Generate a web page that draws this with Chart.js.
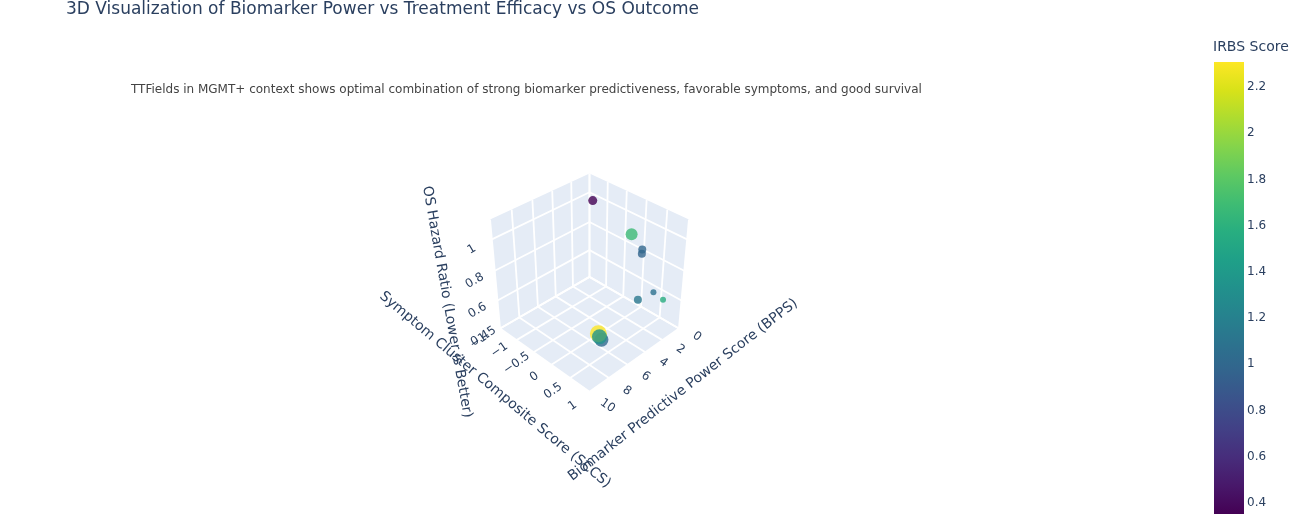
<!DOCTYPE html>
<html>
<head>
<meta charset="utf-8">
<title>BPPS vs SCCS vs OS HR</title>
<script src="https://cdn.jsdelivr.net/npm/chart.js@4.4.1/dist/chart.umd.min.js"></script>
<style>
  html, body { margin: 0; padding: 0; background: #fff; }
  #wrap { position: relative; width: 1303px; height: 525px; }
</style>
</head>
<body>
<div id="wrap"><canvas id="chart" width="1303" height="525"></canvas></div>
<script>
// Data (one point per treatment context)
const bpps = [2.9, 2.0, 1.5, 1.0, 3.0, 1.0, 0.5, 7.0, 8.5, 6.5];
const sccs = [-0.69, 0.10, 0.27, 0.16, 0.54, 0.50, 0.65, 0.48, 0.87, 0.44];
const osHR = [1.12, 0.98, 0.89, 0.83, 0.65, 0.62, 0.57, 0.57, 0.68, 0.50];
const irbs = [0.35, 1.68, 1.00, 0.98, 1.13, 1.08, 1.57, 2.31, 1.35, 1.04];
const evidenceWeight = [9, 12, 8, 8, 8, 6, 6, 17, 15, 14];

// Axis ticks and ranges
const xTicks = [0, 2, 4, 6, 8, 10];
const yTicks = [-1.5, -1, -0.5, 0, 0.5, 1];
const zTicks = [0.4, 0.6, 0.8, 1];
const cbTicks = [0.4, 0.6, 0.8, 1, 1.2, 1.4, 1.6, 1.8, 2, 2.2];
const xRange = [0, 10];
const yRange = [-1.5, 1];
const zRange = [0.4, 1.12];
const irbsRange = [0.3525, 2.308];

const titleText = '3D Visualization of Biomarker Power vs Treatment Efficacy vs OS Outcome';
const noteText = 'TTFields in MGMT+ context shows optimal combination of strong biomarker predictiveness, favorable symptoms, and good survival';

const FONT = '"DejaVu Sans", Verdana, sans-serif';
const INK = '#2a3f5f';

// Viridis (plotly stops)
const viridis = ['#440154', '#48186a', '#472d7b', '#424086', '#3b528b', '#33638d', '#2c728e', '#26828e',
  '#21918c', '#1fa088', '#28ae80', '#3fbc73', '#5ec962', '#84d44b', '#addc30', '#d8e219', '#fde725'];

function hexRgb(h) {
  return [parseInt(h.slice(1, 3), 16), parseInt(h.slice(3, 5), 16), parseInt(h.slice(5, 7), 16)];
}

function viridisAt(t, alpha) {
  t = Math.max(0, Math.min(1, t));
  const pos = t * (viridis.length - 1);
  const i = Math.min(Math.floor(pos), viridis.length - 2);
  const f = pos - i;
  const a = hexRgb(viridis[i]), b = hexRgb(viridis[i + 1]);
  const c = a.map((v, j) => Math.round(v + (b[j] - v) * f));
  return `rgba(${c[0]},${c[1]},${c[2]},${alpha})`;
}

// Simple perspective camera looking from (+x,+y,+z) like plotly's default eye
const CAM = { D: 10.88, unit: 66.6, cx: 589.5, cy: 276.9 };
const S2 = Math.SQRT2, S3 = Math.sqrt(3), S6 = Math.sqrt(6);

function norm(v, r) { return (v - r[0]) / (r[1] - r[0]) * 2 - 1; }

function project(x, y, z) {
  const a = norm(x, xRange), b = norm(y, yRange), c = norm(z, zRange);
  const depth = (a + b + c) / S3;
  const k = CAM.D / (CAM.D - depth);
  return { x: k * (b - a) / S2, y: k * (2 * c - a - b) / S6, depth };
}

// points sorted far -> near so nearer markers are drawn on top
const order = bpps.map((_, i) => i)
  .sort((i, j) => project(bpps[i], sccs[i], osHR[i]).depth - project(bpps[j], sccs[j], osHR[j]).depth);

const pts = order.map(i => {
  const p = project(bpps[i], sccs[i], osHR[i]);
  return { x: p.x, y: p.y };
});
const ptColors = order.map(i => viridisAt((irbs[i] - irbsRange[0]) / (irbsRange[1] - irbsRange[0]), 0.8));
const ptRadius = order.map(i => evidenceWeight[i] / 2);

function toPx(chart, x, y, z) {
  const p = project(x, y, z);
  return [chart.scales.x.getPixelForValue(p.x), chart.scales.y.getPixelForValue(p.y)];
}

function line(ctx, a, b) {
  ctx.beginPath();
  ctx.moveTo(a[0], a[1]);
  ctx.lineTo(b[0], b[1]);
  ctx.stroke();
}

function poly(ctx, list) {
  ctx.beginPath();
  list.forEach((p, i) => i ? ctx.lineTo(p[0], p[1]) : ctx.moveTo(p[0], p[1]));
  ctx.closePath();
  ctx.fill();
}

function label(ctx, s, x, y, size, rot, align, color) {
  ctx.save();
  ctx.translate(x, y);
  ctx.rotate(rot * Math.PI / 180);
  ctx.font = `${size}px ${FONT}`;
  ctx.fillStyle = color || INK;
  ctx.textAlign = align || 'center';
  ctx.textBaseline = 'middle';
  ctx.fillText(s, 0, 0);
  ctx.restore();
}

function fmt(v) { return v < 0 ? '\u2212' + String(-v) : String(v); }

const scenePlugin = {
  id: 'scene3d',
  beforeDatasetsDraw(chart) {
    const ctx = chart.ctx;
    const [x0, x1] = xRange, [y0, y1] = yRange, [z0, z1] = zRange;
    const P = (x, y, z) => toPx(chart, x, y, z);
    ctx.save();
    // back walls
    ctx.fillStyle = '#e5ecf6';
    poly(ctx, [P(x0, y0, z0), P(x1, y0, z0), P(x1, y1, z0), P(x0, y1, z0)]);
    poly(ctx, [P(x0, y0, z0), P(x1, y0, z0), P(x1, y0, z1), P(x0, y0, z1)]);
    poly(ctx, [P(x0, y0, z0), P(x0, y1, z0), P(x0, y1, z1), P(x0, y0, z1)]);
    // grid
    ctx.strokeStyle = '#ffffff';
    ctx.lineWidth = 1.8;
    xTicks.forEach(x => {
      line(ctx, P(x, y0, z0), P(x, y1, z0));
      line(ctx, P(x, y0, z0), P(x, y0, z1));
    });
    yTicks.forEach(y => {
      line(ctx, P(x0, y, z0), P(x1, y, z0));
      line(ctx, P(x0, y, z0), P(x0, y, z1));
    });
    zTicks.forEach(z => {
      line(ctx, P(x0, y0, z), P(x1, y0, z));
      line(ctx, P(x0, y0, z), P(x0, y1, z));
    });
    ctx.restore();
  },
  afterDatasetsDraw(chart) {
    const ctx = chart.ctx;
    const [x0, x1] = xRange, [y0, y1] = yRange, [z0, z1] = zRange;
    const P = (x, y, z) => toPx(chart, x, y, z);
    // tick labels, pushed a little further out on the near end of each edge
    xTicks.forEach(x => {
      const p = P(x, y1, z0), t = (x - x0) / (x1 - x0);
      label(ctx, fmt(x), p[0] + 18, p[1] + 8 + 6 * t, 12, 35);
    });
    yTicks.forEach(y => {
      const p = P(x1, y, z0), t = (y - y0) / (y1 - y0);
      label(ctx, fmt(y), p[0] - 17, p[1] + 9 + 5 * t, 12, -35);
    });
    zTicks.forEach(z => { const p = P(x1, y0, z); label(ctx, fmt(z), p[0] - 20, p[1] + 10, 12, -30); });
    // axis titles
    label(ctx, 'Biomarker Predictive Power Score (BPPS)', 683, 390, 14, -38);
    label(ctx, 'Symptom Cluster Composite Score (SCCS)', 495, 390, 14, 40);
    label(ctx, 'OS Hazard Ratio (Lower is Better)', 447, 302, 14, 80);

    // title and note
    label(ctx, titleText, 66, 10, 17, 0, 'left');
    label(ctx, noteText, 131, 90, 12, 0, 'left', '#444');

    // colour bar
    const cbL = 1214, cbR = 1244, cbT = 62, cbB = 514;
    const g = ctx.createLinearGradient(0, cbB, 0, cbT);
    viridis.forEach((c, i) => g.addColorStop(i / (viridis.length - 1), c));
    ctx.fillStyle = g;
    ctx.fillRect(cbL, cbT, cbR - cbL, cbB - cbT);
    cbTicks.forEach(v => {
      const y = cbB - (v - irbsRange[0]) / (irbsRange[1] - irbsRange[0]) * (cbB - cbT);
      label(ctx, String(v), cbR + 3, y, 12, 0, 'left');
    });
    label(ctx, 'IRBS Score', 1213, 47, 14, 0, 'left');
  }
};

new Chart(document.getElementById('chart'), {
  type: 'scatter',
  data: {
    datasets: [{
      label: 'Treatments',
      data: pts,
      backgroundColor: ptColors,
      borderWidth: 0,
      pointRadius: ptRadius,
      pointHoverRadius: ptRadius
    }]
  },
  options: {
    responsive: false,
    animation: false,
    layout: { padding: 0, autoPadding: false },
    plugins: { legend: { display: false }, tooltip: { enabled: false } },
    scales: {
      x: { type: 'linear', display: false, min: -CAM.cx / CAM.unit, max: (1303 - CAM.cx) / CAM.unit },
      y: { type: 'linear', display: false, min: -(525 - CAM.cy) / CAM.unit, max: CAM.cy / CAM.unit }
    }
  },
  plugins: [scenePlugin]
});
</script>
</body>
</html>
